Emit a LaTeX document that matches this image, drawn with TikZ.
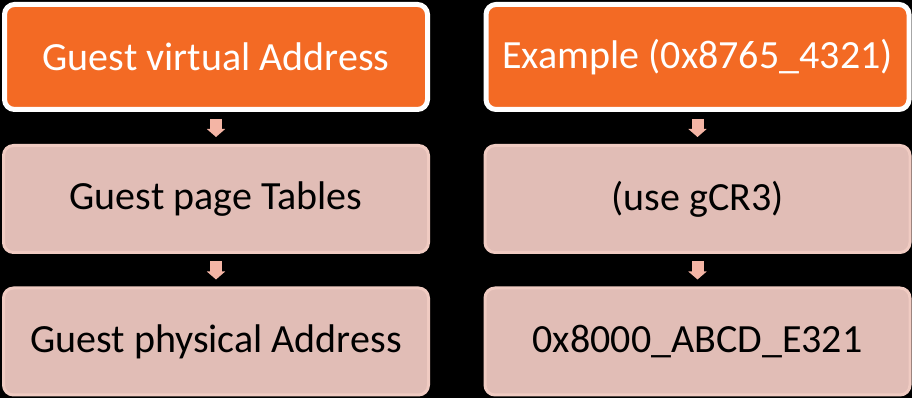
\documentclass[tikz,border=0pt]{standalone}
\usepackage{fontspec}
\setmainfont{Carlito}
\usetikzlibrary{arrows.meta}
\definecolor{hdorange}{HTML}{F36A24}
\definecolor{stepfill}{HTML}{E1BDB6}
\definecolor{stepline}{HTML}{F0CBC2}
\definecolor{arrowpink}{HTML}{F4B5A5}
\tikzset{
  x=1pt, y=1pt,
  headbox/.style={draw=white, line width=5pt, fill=hdorange, rounded corners=10pt,
    minimum width=423pt, minimum height=105pt, inner sep=0pt,
    text=white, font=\fontsize{40}{48}\selectfont},
  stepbox/.style={draw=stepline, line width=3pt, fill=stepfill, rounded corners=10pt,
    minimum width=425pt, minimum height=107pt, inner sep=0pt,
    text=black, font=\fontsize{40}{48}\selectfont},
  flow/.style={draw=arrowpink, line width=12pt,
    -{Triangle[width=18pt,length=8pt]}, shorten <=7pt, shorten >=7pt}
}
\begin{document}
\begin{tikzpicture}
  \fill[black] (0,0) rectangle (912,398);
  \useasboundingbox (0,0) rectangle (912,398);

  % left column
  \node[headbox] (gva) at (216,341) {Guest virtual Address};
  \node[stepbox] (gpt) at (216,199) {Guest page Tables};
  \node[stepbox] (gpa) at (216,56.5) {Guest physical Address};

  % right column
  \node[headbox] (ex)  at (697.5,341) {Example (0x8765\_4321)};
  \node[stepbox] (cr3) at (697.5,199) {(use gCR3)};
  \node[stepbox] (res) at (697.5,56.5) {0x8000\_ABCD\_E321};

  \draw[flow] (gva.south) -- (gpt.north);
  \draw[flow] (gpt.south) -- (gpa.north);
  \draw[flow] (ex.south)  -- (cr3.north);
  \draw[flow] (cr3.south) -- (res.north);
\end{tikzpicture}
\end{document}
